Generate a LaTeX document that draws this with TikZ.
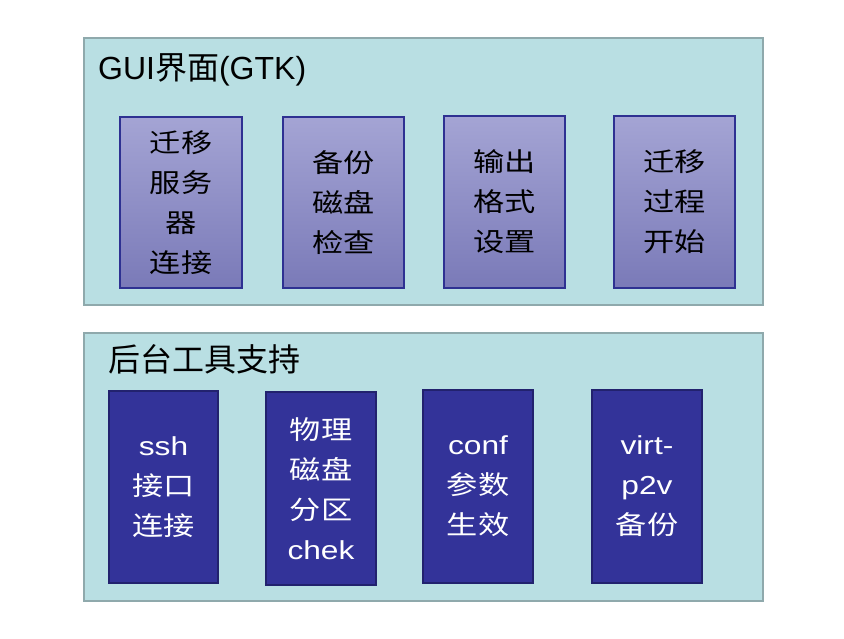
\documentclass[tikz,border=0pt]{standalone}
\usepackage{fontspec}
\setmainfont{Liberation Sans}
\newfontfamily\cjk{Noto Sans CJK SC}
\newfontfamily\lat{Liberation Sans}
\newfontfamily\cjkw{Noto Sans CJK SC}[FakeStretch=1.2]
\newfontfamily\latw{Liberation Sans}[FakeStretch=1.22]
\definecolor{outerfill}{HTML}{B9DFE3}
\definecolor{outerline}{HTML}{8FA9AC}
\definecolor{guitop}{HTML}{A4A4D4}
\definecolor{guibot}{HTML}{7A7AB8}
\definecolor{guiline}{HTML}{2E3192}
\definecolor{toolfill}{HTML}{333399}
\definecolor{toolline}{HTML}{22226E}
\begin{document}
\begin{tikzpicture}[x=1pt,y=-1pt,
  outerbox/.style={draw=outerline,line width=1.5pt,fill=outerfill},
  guibox/.style={draw=guiline,line width=1.3pt,top color=guitop,bottom color=guibot,
    align=center,inner sep=0pt,font=\cjkw\fontsize{26}{40}\selectfont,text=black},
  toolbox/.style={draw=toolline,line width=1.3pt,fill=toolfill,
    align=center,inner sep=0pt,font=\cjkw\fontsize{26}{40}\selectfont,text=white},
  titletext/.style={inner sep=0pt,font=\fontsize{32}{36}\selectfont,text=black}]
\useasboundingbox (0,0) rectangle (844,639);
\fill[white] (0,0) rectangle (844,639);
% outer panels
\draw[outerbox] (84,38) rectangle (763,305);
\draw[outerbox] (84,333) rectangle (763,601);
\node[titletext,anchor=base west] (t1) at (98,80) {\lat GUI{\cjk 界面}(GTK)};
\node[titletext,anchor=west,font=\cjk\fontsize{32}{36}\selectfont] (t2) at (108,359) {后台工具支持};
% GUI boxes
\node[guibox,minimum width=122pt,minimum height=171pt] (g1) at (181,202.5) {迁移\\服务\\器\\连接};
\node[guibox,minimum width=121pt,minimum height=171pt] (g2) at (343.5,202.5) {备份\\磁盘\\检查};
\node[guibox,minimum width=121pt,minimum height=172pt] (g3) at (504.5,202) {输出\\格式\\设置};
\node[guibox,minimum width=121pt,minimum height=172pt] (g4) at (674.5,202) {迁移\\过程\\开始};
% tool boxes
\node[toolbox,minimum width=109pt,minimum height=192pt] (b1) at (163.5,487) {{\latw ssh}\\接口\\连接};
\node[toolbox,minimum width=110pt,minimum height=193pt] (b2) at (321,488.5) {物理\\磁盘\\分区\\{\latw chek}};
\node[toolbox,minimum width=110pt,minimum height=193pt] (b3) at (478,486.5) {{\latw conf}\\参数\\生效};
\node[toolbox,minimum width=110pt,minimum height=193pt] (b4) at (647,486.5) {{\latw virt-}\\{\latw p2v}\\备份};
\end{tikzpicture}
\end{document}
